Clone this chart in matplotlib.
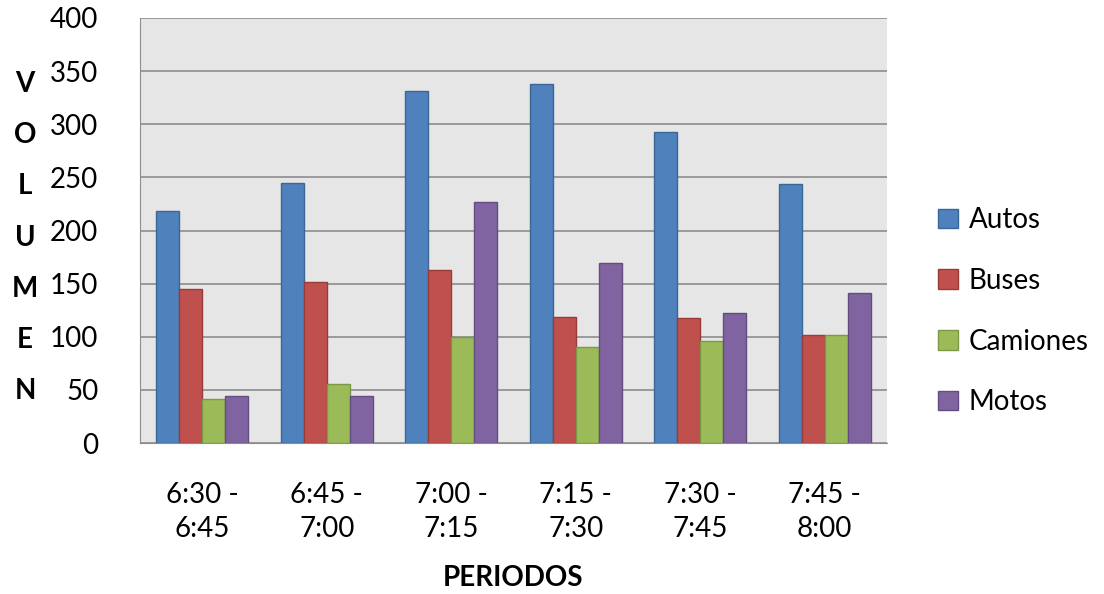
import matplotlib.pyplot as plt
import numpy as np

plt.rcParams['font.family'] = ['Lato', 'DejaVu Sans']

periodos = ['6:30 -\n6:45', '6:45 -\n7:00', '7:00 -\n7:15', '7:15 -\n7:30', '7:30 -\n7:45', '7:45 -\n8:00']
autos = [218, 245, 331, 338, 293, 244]
buses = [145, 152, 163, 119, 118, 102]
camiones = [41, 56, 100, 90, 96, 102]
motos = [44, 44, 227, 169, 122, 141]

series = [('Autos', autos, '#4F81BD', '#3A6796'),
          ('Buses', buses, '#C0504D', '#983C3A'),
          ('Camiones', camiones, '#9BBB59', '#7A9845'),
          ('Motos', motos, '#8064A2', '#634D7F')]

fig = plt.figure(figsize=(11.04, 5.94), dpi=100)
ax = fig.add_axes([0.1268, 0.2542, 0.6766, 0.7155])
ax.set_facecolor('#E6E6E6')

x = np.arange(len(periodos))
w = 0.185
for i, (name, vals, col, edge) in enumerate(series):
    ax.bar(x + (i - 1.5) * w, vals, w, color=col, edgecolor=edge, linewidth=1, label=name, zorder=3)

ax.set_xlim(-0.5, len(periodos) - 0.5)
ax.set_ylim(0, 400)
ax.set_yticks(range(0, 401, 50))
ax.yaxis.grid(True, color='#8C8C8C', linewidth=1.2, zorder=0)
ax.set_xticks(x)
ax.set_xticklabels(periodos, fontsize=20, linespacing=1.4)
ax.tick_params(axis='y', labelsize=20, length=0, pad=30)
ax.tick_params(axis='x', length=0, pad=28)
for s in ['top', 'right']:
    ax.spines[s].set_visible(False)
ax.spines['left'].set_color('#8C8C8C')
ax.spines['bottom'].set_color('#8C8C8C')

fig.text(0.465, 1 - 578 / 594, 'PERIODOS', fontsize=20, fontweight='bold', ha='center', va='center')
fig.text(25 / 1104, 0.6, 'V\nO\nL\nU\nM\nE\nN', fontsize=20, fontweight='bold',
         ha='center', va='center', linespacing=2.2)

ax.legend(loc='center left', bbox_to_anchor=(1.035, 0.31), frameon=False, fontsize=20,
          handlelength=0.7, handleheight=0.7, handletextpad=0.4, labelspacing=1.25)

fig.savefig('out.png', dpi=100)
